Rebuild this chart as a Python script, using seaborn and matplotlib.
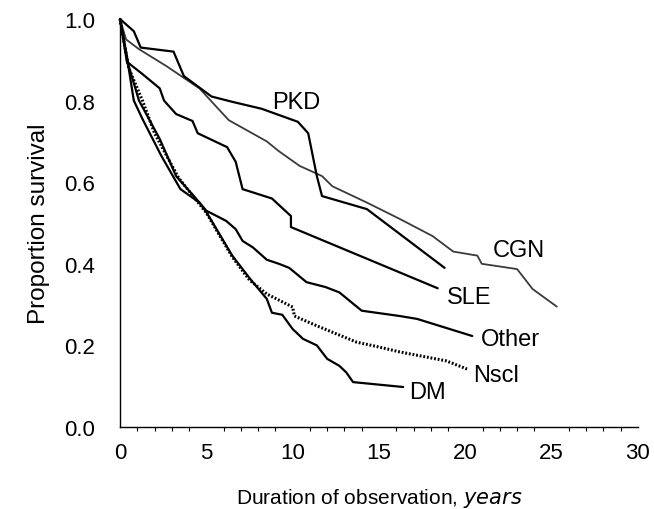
import numpy as np
import pandas as pd
import matplotlib
matplotlib.use("Agg")
import matplotlib.pyplot as plt
import seaborn as sns
from matplotlib.ticker import MultipleLocator, FormatStrFormatter

# survival curves (years, proportion surviving)
cgn_x = [0, 0.35, 1.1, 2.67, 4.6, 6.3, 8.5, 9.2, 10.4, 11.7, 12.3, 14.3, 16.2, 18.1, 19.3, 20.7, 20.95, 23.0, 23.9, 25.3]
cgn_y = [1.0, 0.95, 0.926, 0.885, 0.83, 0.752, 0.70, 0.676, 0.64, 0.615, 0.59, 0.55, 0.51, 0.468, 0.43, 0.42, 0.40, 0.387, 0.338, 0.295]

pkd_x = [0, 0.8, 1.2, 3.1, 3.7, 5.3, 6.5, 8.2, 10.3, 10.9, 11.4, 11.7, 14.3, 18.8]
pkd_y = [1.0, 0.97, 0.93, 0.92, 0.86, 0.81, 0.797, 0.78, 0.748, 0.72, 0.615, 0.566, 0.534, 0.39]

sle_x = [0, 0.4, 1.3, 2.3, 2.55, 3.25, 4.2, 4.5, 6.2, 6.7, 7.1, 8.8, 9.9, 9.9, 18.4]
sle_y = [1.0, 0.895, 0.865, 0.83, 0.80, 0.767, 0.75, 0.72, 0.686, 0.65, 0.583, 0.56, 0.517, 0.49, 0.34]

other_x = [0, 0.5, 1.1, 2.3, 3.25, 4.4, 5.0, 5.7, 6.15, 6.7, 7.1, 7.7, 8.5, 9.2, 9.8, 10.8, 11.9, 12.7, 14.0, 16.2, 17.2, 20.4]
other_y = [1.0, 0.885, 0.80, 0.706, 0.615, 0.56, 0.53, 0.515, 0.505, 0.485, 0.456, 0.44, 0.41, 0.40, 0.39, 0.355, 0.343, 0.33, 0.285, 0.272, 0.265, 0.223]

nscl_x = [0, 0.5, 1.3, 2.0, 3.4, 5.0, 6.5, 7.5, 8.5, 10.0, 10.1, 11.4, 13.7, 15.0, 16.2, 18.9, 20.1]
nscl_y = [1.0, 0.88, 0.80, 0.72, 0.61, 0.525, 0.417, 0.36, 0.326, 0.294, 0.272, 0.248, 0.208, 0.196, 0.184, 0.162, 0.142]

dm_x = [0, 0.5, 0.8, 1.3, 2.4, 3.5, 4.6, 5.0, 6.5, 7.5, 8.5, 8.8, 9.4, 10.0, 10.6, 11.4, 12.0, 12.7, 13.1, 13.5, 16.4]
dm_y = [1.0, 0.88, 0.80, 0.755, 0.664, 0.583, 0.55, 0.527, 0.42, 0.365, 0.314, 0.28, 0.275, 0.24, 0.216, 0.20, 0.167, 0.15, 0.134, 0.11, 0.098]

labels = ["PKD", "CGN", "SLE", "Other", "Nscl", "DM"]
label_x = [10.2, 23.1, 20.2, 22.6, 21.8, 17.8]
label_y = [0.797, 0.434, 0.319, 0.216, 0.127, 0.086]

sns.set_style("white")
plt.rcParams["font.family"] = ["Liberation Sans", "DejaVu Sans"]
plt.rcParams["text.color"] = "black"
plt.rcParams["axes.labelcolor"] = "black"
plt.rcParams["xtick.color"] = "black"
plt.rcParams["ytick.color"] = "black"

fig = plt.figure(figsize=(6.54, 5.1), dpi=100)
ax = fig.add_axes([0.1835, 0.1608, 0.792, 0.80])

series = [
    (cgn_x, cgn_y, "#3a3a3a", 1.3, "-"),
    (pkd_x, pkd_y, "black", 1.6, "-"),
    (sle_x, sle_y, "black", 1.6, "-"),
    (other_x, other_y, "black", 1.6, "-"),
    (nscl_x, nscl_y, "black", 2.2, (0, (0.6, 0.6))),
    (dm_x, dm_y, "black", 1.6, "-"),
]
for xs, ys, c, lw, ls in series:
    df = pd.DataFrame({"x": xs, "y": ys})
    sns.lineplot(data=df, x="x", y="y", sort=False, estimator=None,
                 color=c, lw=lw, linestyle=ls, ax=ax, clip_on=False)

for t, x, y in zip(labels, label_x, label_y):
    ax.text(x, y, t, fontsize=17, ha="center", va="center", color="black")

ax.set_xlim(0, 30)
ax.set_ylim(0, 1)
ax.xaxis.set_major_locator(MultipleLocator(5))
ax.xaxis.set_minor_locator(MultipleLocator(1))
ax.yaxis.set_major_locator(MultipleLocator(0.2))
ax.yaxis.set_major_formatter(FormatStrFormatter("%.1f"))
ax.tick_params(axis="both", which="major", direction="out", length=5, width=1,
               labelsize=16, color="black", labelcolor="black")
ax.tick_params(axis="y", pad=13)
ax.tick_params(axis="x", which="minor", direction="out", length=3, width=0.8,
               color="black", bottom=True)
ax.tick_params(axis="x", which="major", pad=6)
for s in ["top", "right"]:
    ax.spines[s].set_visible(False)
for s in ["left", "bottom"]:
    ax.spines[s].set_color("black")
    ax.spines[s].set_linewidth(1)

ax.set_ylabel("Proportion survival", fontsize=17.5, labelpad=10)
ax.set_xlabel("Duration of observation, $\\it{years}$", fontsize=15)
ax.xaxis.set_label_coords(0.5, -0.145)

fig.savefig("out.png", dpi=100)
